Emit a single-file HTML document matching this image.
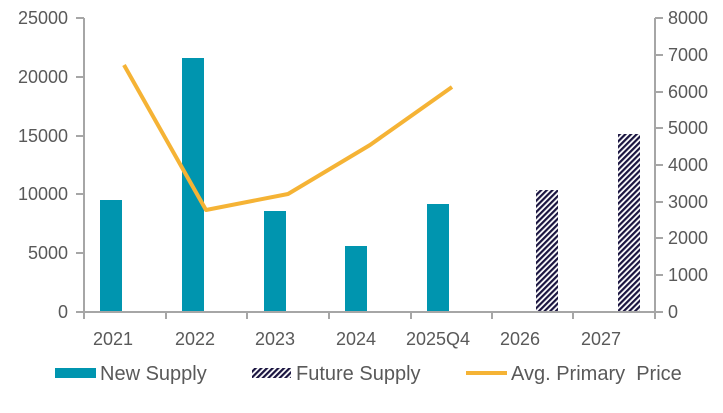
<!DOCTYPE html>
<html><head><meta charset="utf-8"><style>
body{margin:0;background:#fff}
svg text{font-family:"Liberation Sans",Arial,sans-serif;font-size:18px;fill:#595959}
svg text.lg{font-size:20px;white-space:pre}
</style></head><body>
<svg width="723" height="408" viewBox="0 0 723 408">
<defs>
<pattern id="h" width="4" height="4" patternUnits="userSpaceOnUse" patternTransform="rotate(45)">
<rect width="4" height="4" fill="#fff"/><rect width="2.2" height="4" fill="#1a1440"/>
</pattern>
</defs>
<g fill="#0095AF">
<rect x="100" y="200" width="22" height="112"/>
<rect x="182" y="58" width="22" height="254"/>
<rect x="264" y="211" width="22" height="101"/>
<rect x="345" y="246" width="22" height="66"/>
<rect x="427" y="204" width="22" height="108"/>
</g>
<rect x="536" y="190" width="22" height="122" fill="url(#h)"/>
<rect x="618" y="134" width="22" height="178" fill="url(#h)"/>
<polyline points="124,65 206,210 288,194 370,145 452,87" fill="none" stroke="#F5B335" stroke-width="4" stroke-linejoin="round"/>
<g stroke="#A6A6A6" stroke-width="2" fill="none">
<line x1="84" y1="18" x2="84" y2="312"/>
<line x1="655" y1="18" x2="655" y2="312"/>
<line x1="76" y1="312" x2="663" y2="312"/>
<path d="M76 18H84M76 77H84M76 136H84M76 194H84M76 253H84"/>
<path d="M655 18H663M655 55H663M655 92H663M655 128H663M655 165H663M655 202H663M655 238H663M655 275H663"/>
<path d="M166 312V319M247 312V319M329 312V319M411 312V319M492 312V319M573 312V319M84 312V319M655 312V319"/>
</g>
<g text-anchor="end">
<text x="68" y="24">25000</text><text x="68" y="83">20000</text><text x="68" y="142">15000</text><text x="68" y="200">10000</text><text x="68" y="259">5000</text><text x="68" y="318">0</text>
</g>
<g>
<text x="668" y="24">8000</text><text x="668" y="61">7000</text><text x="668" y="98">6000</text><text x="668" y="134">5000</text><text x="668" y="171">4000</text><text x="668" y="208">3000</text><text x="668" y="244">2000</text><text x="668" y="281">1000</text><text x="668" y="318">0</text>
</g>
<g text-anchor="middle">
<text x="113" y="345">2021</text><text x="195" y="345">2022</text><text x="275" y="345">2023</text><text x="356" y="345">2024</text><text x="438" y="345">2025Q4</text><text x="520" y="345">2026</text><text x="601" y="345">2027</text>
</g>
<rect x="55" y="368" width="41" height="10" fill="#0095AF"/>
<text class="lg" x="100" y="380">New Supply</text>
<rect x="252" y="368" width="39" height="10" fill="url(#h)"/>
<text class="lg" x="296" y="380">Future Supply</text>
<line x1="466" y1="373" x2="507" y2="373" stroke="#F5B335" stroke-width="4"/>
<text class="lg" x="511" y="380">Avg. Primary  Price</text>
</svg>
</body></html>
